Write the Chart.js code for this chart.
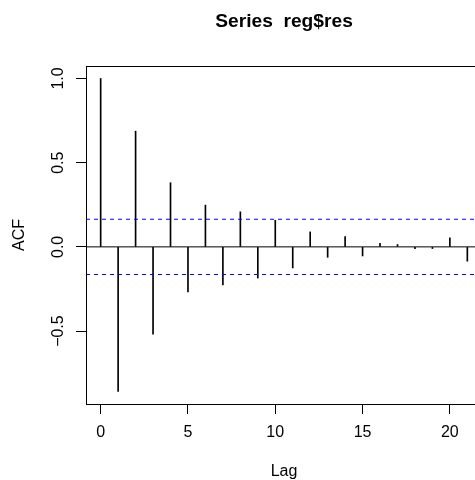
<!DOCTYPE html>
<html>
<head>
<meta charset="utf-8">
<script src="https://cdn.jsdelivr.net/npm/chart.js@4"></script>
<style>
  html, body { margin: 0; padding: 0; background: #fff; overflow: hidden; }
  canvas { display: block; }
</style>
</head>
<body>
<canvas id="myChart" width="490" height="480"></canvas>
<script>
// ACF of reg$res
let lags = [0, 1, 2, 3, 4, 5, 6, 7, 8, 9, 10, 11, 12, 13, 14, 15, 16, 17, 18, 19, 20, 21];
let acfValues = [1.000, -0.859, 0.687, -0.518, 0.381, -0.268, 0.248, -0.226, 0.208, -0.185,
                 0.158, -0.125, 0.089, -0.062, 0.061, -0.054, 0.021, 0.014, -0.010, -0.010,
                 0.053, -0.085];
let ciLevel = 0.164;

let xTicks = [0, 5, 10, 15, 20];
let xTickLabels = ["0", "5", "10", "15", "20"];
let yTicks = [-0.5, 0, 0.5, 1.0];
let yTickLabels = ["\u22120.5", "0.0", "0.5", "1.0"];

// axis limits (R style 4% extension)
let xMin = -0.84, xMax = 21.84;
let yMin = -0.933, yMax = 1.074;

let fontFamily = "'Liberation Sans', Arial, Helvetica, sans-serif";

// box round the plot + main title
let framePlugin = {
  id: "frame",
  afterDraw(chart) {
    let a = chart.chartArea;
    let c = chart.ctx;
    c.save();
    c.strokeStyle = "#000";
    c.lineWidth = 1;
    c.strokeRect(Math.round(a.left) + 0.5, Math.round(a.top) + 0.5,
                 Math.round(a.right - a.left), Math.round(a.bottom - a.top));
    c.fillStyle = "#000";
    c.font = "bold 19.2px " + fontFamily;
    c.textAlign = "center";
    c.textBaseline = "middle";
    c.fillText("Series  reg$res", (a.left + a.right) / 2, 21.5);
    c.restore();
  }
};

let data = {
  datasets: [
    {
      type: "bar",
      label: "ACF",
      data: lags.map((l, i) => ({ x: l, y: acfValues[i] })),
      backgroundColor: "#000",
      borderWidth: 0,
      barThickness: 1,
      order: 1
    },
    {
      type: "line",
      label: "zero",
      data: [{ x: xMin, y: 0 }, { x: xMax, y: 0 }],
      borderColor: "#000",
      borderWidth: 1,
      pointRadius: 0,
      order: 2
    },
    {
      type: "line",
      label: "upper",
      data: [{ x: xMin, y: ciLevel }, { x: xMax, y: ciLevel }],
      borderColor: "#0000ff",
      borderWidth: 1,
      borderDash: [4, 4],
      pointRadius: 0,
      order: 0
    },
    {
      type: "line",
      label: "lower",
      data: [{ x: xMin, y: -ciLevel }, { x: xMax, y: -ciLevel }],
      borderColor: "#0000ff",
      borderWidth: 1,
      borderDash: [4, 4],
      pointRadius: 0,
      order: 0
    }
  ]
};

let options = {
  responsive: false,
  animation: false,
  events: [],
  layout: { padding: { top: 66, right: 8, left: 0, bottom: 0 } },
  plugins: {
    legend: { display: false },
    title: { display: false },
    tooltip: { enabled: false }
  },
  scales: {
    x: {
      type: "linear",
      min: xMin,
      max: xMax,
      offset: false,
      border: { display: false },
      grid: { drawOnChartArea: false, drawTicks: true, tickLength: 10, color: "#000", offset: false },
      afterBuildTicks: (s) => { s.ticks = xTicks.map(v => ({ value: v })); },
      afterFit: (s) => { s.height = 76; },
      ticks: {
        autoSkip: false,
        maxRotation: 0,
        padding: 11,
        color: "#000",
        font: { family: fontFamily, size: 16, lineHeight: 1 },
        callback: (v, i) => xTickLabels[i]
      },
      title: {
        display: true,
        text: "Lag",
        color: "#000",
        font: { family: fontFamily, size: 16, lineHeight: 1 },
        padding: { top: 0, bottom: 0 }
      }
    },
    y: {
      type: "linear",
      min: yMin,
      max: yMax,
      border: { display: false },
      grid: { drawOnChartArea: false, drawTicks: true, tickLength: 10, color: "#000" },
      afterBuildTicks: (s) => { s.ticks = yTicks.map(v => ({ value: v })); },
      afterFit: (s) => { s.width = 86; },
      ticks: {
        autoSkip: false,
        minRotation: 90,
        maxRotation: 90,
        crossAlign: "center",
        padding: 2,
        color: "#000",
        font: { family: fontFamily, size: 16, lineHeight: 1 },
        callback: (v, i) => yTickLabels[i]
      },
      title: {
        display: true,
        text: "ACF",
        color: "#000",
        font: { family: fontFamily, size: 16, lineHeight: 1 },
        padding: { top: 12, bottom: 0 }
      }
    }
  }
};

let ctx = document.getElementById("myChart").getContext("2d");
let myChart = new Chart(ctx, {
  type: "bar",
  data: data,
  options: options,
  plugins: [framePlugin]
});
</script>
</body>
</html>
